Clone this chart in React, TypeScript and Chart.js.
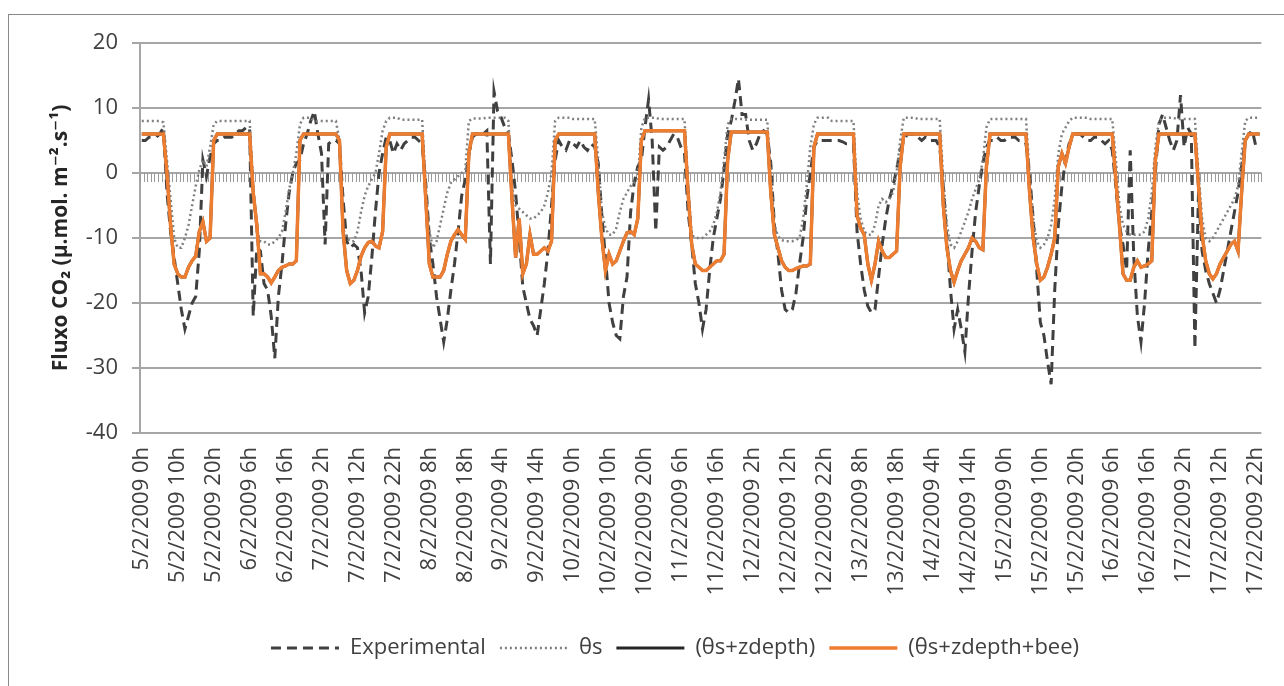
import { useEffect, useRef } from "react";
import { Chart, registerables } from "chart.js";

Chart.register(...registerables);

const days = ["5/2/2009", "6/2/2009", "7/2/2009", "8/2/2009", "9/2/2009", "10/2/2009", "11/2/2009", "12/2/2009", "13/2/2009", "14/2/2009", "15/2/2009", "16/2/2009", "17/2/2009"];
const hours = ["0h", "1h", "2h", "3h", "4h", "5h", "6h", "7h", "8h", "9h", "10h", "11h", "12h", "13h", "14h", "15h", "16h", "17h", "18h", "19h", "20h", "21h", "22h", "23h"];
const categories = days.flatMap((d) => hours.map((h) => d + " " + h));
const labelStep = 10;
const yMin = -40;
const yMax = 20;
const yStep = 10;

const experimental = [
  5, 5, 5.5, 5.5, 5.5, 6, 7, -3, -9, -13, -17, -21, -24, -22, -20, -19, -12, 2, -0.5, 2.5, 4.5, 5, 5, 5.5,
  5.5, 5.5, 6, 6.5, 6.5, 7, 7, -22, -11.5, -12, -17, -18, -22, -28.5, -19, -14, -8, -3, 0, 1.5, 2, 4.5, 6, 8,
  9.5, 6, 3, -11, 4.5, 5, 5, 4.5, -4, -10.5, -11.5, -11, -11.5, -15, -21.5, -19, -13, -6, 0, 3, 5.5, 5, 3, 4.5,
  3.5, 4.5, 5, 5.5, 5.5, 5, 4.5, -1.5, -10, -14, -19, -22.5, -26, -22.5, -18, -14, -9, -3.5, -1, 3, 5.5, 6, 6, 6,
  6.5, -14, 12.5, 9.5, 8.5, 7, 6, 2, -3, -10, -17.5, -20, -22.5, -23.5, -25, -21, -17, -12, -5, 2, 5, 4, 3.5, 5,
  4.5, 4, 5, 4, 3.5, 4.5, 4, 1.5, -6.5, -13, -20, -23, -25, -25.5, -19, -16, -6, -1.5, 1, 2, 7, 11.3, 5, -9,
  4, 3.5, 4, 5, 6, 5.5, 4, 3, -6, -11, -17, -20, -24, -21, -15, -10, -7, -4, 0.5, 6, 8, 11, 14.5, 9,
  9, 5, 3.5, 4.5, 6, 6.5, 6, 1.5, -8, -12.5, -18, -21, -21.5, -21, -18.5, -14, -10, -4, 0, 4, 5, 5, 5, 5,
  5, 5, 5, 4.8, 4.5, 4.5, 4.5, -9, -14, -18, -20.5, -21.5, -21, -16, -11, -7, -4, -2, 0.5, 3.5, 5, 6, 6, 6,
  5.5, 5, 5.5, 5, 5, 5, 4, -2, -10, -18, -24, -21, -24, -27.5, -19, -12, -6, -2, 1.5, 4, 5, 5, 5.5, 5,
  5, 5.5, 5.5, 5.5, 5, 5, 4.5, 0, -7, -15, -23, -25, -29, -32.5, -18, -8, -2, 2, 4.5, 5.5, 6, 6, 5.5, 5,
  5, 5.5, 5.5, 5, 4.5, 5, 3.5, -2, -8, -11, -15, 3.5, -13, -22, -26, -20, -12, -6, 0, 7.5, 9, 7, 5, 3.5,
  5, 12, 4, 7, 6, -27, -3, -12, -15, -17, -18.5, -20, -18, -15, -12, -9, -6, -3, 1, 5, 6, 6.5, 4, 4,
];

const thetaS = [
  8, 8, 8, 8, 8, 8, 7.8, 2, -4, -10, -11.5, -11.5, -10, -8, -5, -2, 0.5, 2, 1, 4, 7.5, 8, 8, 8,
  8, 8, 8, 8, 8, 8, 8, -2, -9, -10.5, -10.5, -11, -11, -10.5, -10, -9, -6, -2.5, 0, 3, 7.5, 8.5, 8.5, 8.5,
  8, 8, 8, 8, 8, 8, 8, 5, -8.5, -10, -10.5, -10.5, -9, -6, -3.5, -2, -1, 0, 3, 6.5, 8, 8.5, 8.5, 8.5,
  8.2, 8.2, 8.2, 8.2, 8.2, 8.2, 8.2, -2, -9, -11.5, -10.5, -8, -5.5, -3, -1.5, -1, -0.5, 0, 0.5, 8, 8.4, 8.4, 8.4, 8.4,
  8.5, 8.5, 8.5, 8.5, 8.5, 8.5, 8, -2, -5, -5.5, -6, -6.5, -7, -7, -6.5, -6, -5, -3, 0, 8, 8.5, 8.5, 8.5, 8.5,
  8.3, 8.3, 8.3, 8.3, 8.3, 8.3, 8.3, 2, -6, -8.5, -9.5, -9.5, -8.5, -6, -4, -3, -2, -1.5, -1, 7, 8.5, 8.5, 8.5, 8.5,
  8.3, 8.3, 8.3, 8.3, 8.3, 8.3, 8.3, 8.3, -2, -9.5, -10, -10, -10, -9.5, -9, -8, -6, -3, 2, 7.5, 8.3, 8.3, 8.3, 8.3,
  8.2, 8.2, 8.2, 8.2, 8.2, 8.2, 8.2, 0, -8, -9.7, -10.3, -10.5, -10.5, -10.5, -10.3, -10, -7, -2, 4, 7.5, 8.5, 8.5, 8.5, 8.5,
  8, 8, 8, 8, 8, 8, 8, -3, -7, -9, -9.5, -9.5, -8, -5, -4, -4.5, -4, -3, 0, 5, 8.5, 8.5, 8.5, 8.5,
  8.3, 8.3, 8.3, 8.3, 8.3, 8.3, 8.3, -1, -8, -11, -11.5, -10.5, -9, -7.5, -6, -4, -2.5, -1, 2, 7, 8.3, 8.3, 8.3, 8.3,
  8.3, 8.3, 8.3, 8.3, 8.3, 8.3, 8.3, 0, -7, -10.5, -11.5, -11, -10, -8, -4, 3, 6, 7, 8, 8.5, 8.5, 8.5, 8.5, 8.5,
  8.3, 8.3, 8.3, 8.3, 8.3, 8.3, 8.3, 2, -5, -8, -9, -9.5, -9.5, -9.5, -9.5, -9, -7, -3, 4, 8, 8.5, 8.5, 8.5, 8.5,
  8.3, 8.3, 8.3, 8.3, 8.3, 8.3, 0, -7, -10, -10.5, -10, -9, -8, -7, -6, -5, -4, -2, 3, 8, 8.5, 8.5, 8.5, 8.5,
];

const thetaZdepth = [
  6, 6, 6, 6, 6, 6, 6, 0, -8, -14, -15.5, -16, -16, -14.5, -13.5, -12.8, -9, -7.5, -10.5, -10, 5, 6, 6, 6,
  6, 6, 6, 6, 6, 6, 6, -3, -8, -15.5, -15.5, -16, -16.9, -16, -15, -14.5, -14.3, -14, -14, -13.5, 5, 6, 6, 6,
  6, 6, 6, 6, 6, 6, 6, 5, -9, -15, -17, -16.5, -15, -12.8, -11.5, -10.7, -10.5, -11.2, -11.5, -9, 4, 6, 6, 6,
  6, 6, 6, 6, 6, 6, 6, -4, -14, -16, -16, -16, -15, -12.5, -10.5, -9.5, -8.7, -9.5, -10.2, 3, 6, 6, 6, 6,
  6, 6, 6, 6, 6, 6, 6, -4, -13, -7, -15.5, -14, -9.5, -12.5, -12.5, -12, -11.5, -12, -10.5, 5, 6, 6, 6, 6,
  6, 6, 6, 6, 6, 6, 6, -3, -10, -15, -12.5, -14, -13.5, -12, -10.5, -9.2, -9, -9.5, -7, 5, 6.5, 6.5, 6.5, 6.5,
  6.5, 6.5, 6.5, 6.5, 6.5, 6.5, 6.5, 6.5, -3, -11, -14, -14.5, -15, -15, -14.5, -14, -13.5, -13.5, -12.5, 2, 6.3, 6.3, 6.3, 6.3,
  6.3, 6.3, 6.3, 6.3, 6.3, 6.3, 6.3, -3, -9.5, -11.5, -13.5, -14.5, -15, -15, -14.7, -14.5, -14.3, -14.3, -14, 4, 6, 6, 6, 6,
  6, 6, 6, 6, 6, 6, 6, -6.5, -8.5, -9.5, -14, -16.5, -14, -10.5, -12, -13, -13, -12.5, -12, 1, 6, 6, 6, 6,
  6, 6, 6, 6, 6, 6, 6, -5, -11.5, -15, -16.8, -15, -13.5, -12.5, -11.5, -10, -10.5, -11.5, -11.8, 1, 6, 6, 6, 6,
  6, 6, 6, 6, 6, 6, 6, -3, -10, -14, -16.5, -16, -14.5, -12.5, -10, 1, 3, 1.5, 4, 6, 6, 6, 6, 6,
  6, 6, 6, 6, 6, 6, 6, -1, -8, -15.5, -16.5, -16.5, -14.5, -13.5, -14.5, -14.3, -14, -13.5, 2, 6, 6, 6, 6, 6,
  6, 6, 6, 6, 6, 6, -2, -9.5, -13.5, -15.5, -16.3, -15.5, -14, -13, -12, -11, -10.5, -12, -3, 5, 6, 6, 6, 6,
];

const thetaZdepthBee = [
  6, 6, 6, 6, 6, 6, 6, 0, -8, -14, -15.5, -16, -16, -14.5, -13.5, -12.8, -9, -7.5, -10.5, -10, 5, 6, 6, 6,
  6, 6, 6, 6, 6, 6, 6, -3, -8, -15.5, -15.5, -16, -16.9, -16, -15, -14.5, -14.3, -14, -14, -13.5, 5, 6, 6, 6,
  6, 6, 6, 6, 6, 6, 6, 5, -9, -15, -17, -16.5, -15, -12.8, -11.5, -10.7, -10.5, -11.2, -11.5, -9, 4, 6, 6, 6,
  6, 6, 6, 6, 6, 6, 6, -4, -14, -16, -16, -16, -15, -12.5, -10.5, -9.5, -8.7, -9.5, -10.2, 3, 6, 6, 6, 6,
  6, 6, 6, 6, 6, 6, 6, -4, -13, -7, -15.5, -14, -9.5, -12.5, -12.5, -12, -11.5, -12, -10.5, 5, 6, 6, 6, 6,
  6, 6, 6, 6, 6, 6, 6, -3, -10, -15, -12.5, -14, -13.5, -12, -10.5, -9.2, -9, -9.5, -7, 5, 6.5, 6.5, 6.5, 6.5,
  6.5, 6.5, 6.5, 6.5, 6.5, 6.5, 6.5, 6.5, -3, -11, -14, -14.5, -15, -15, -14.5, -14, -13.5, -13.5, -12.5, 2, 6.3, 6.3, 6.3, 6.3,
  6.3, 6.3, 6.3, 6.3, 6.3, 6.3, 6.3, -3, -9.5, -11.5, -13.5, -14.5, -15, -15, -14.7, -14.5, -14.3, -14.3, -14, 4, 6, 6, 6, 6,
  6, 6, 6, 6, 6, 6, 6, -6.5, -8.5, -9.5, -14, -16.5, -14, -10.5, -12, -13, -13, -12.5, -12, 1, 6, 6, 6, 6,
  6, 6, 6, 6, 6, 6, 6, -5, -11.5, -15, -16.8, -15, -13.5, -12.5, -11.5, -10, -10.5, -11.5, -11.8, 1, 6, 6, 6, 6,
  6, 6, 6, 6, 6, 6, 6, -3, -10, -14, -16.5, -16, -14.5, -12.5, -10, 1, 3, 1.5, 4, 6, 6, 6, 6, 6,
  6, 6, 6, 6, 6, 6, 6, -1, -8, -15.5, -16.5, -16.5, -14.5, -13.5, -14.5, -14.3, -14, -13.5, 2, 6, 6, 6, 6, 6,
  6, 6, 6, 6, 6, 6, -2, -9.5, -13.5, -15.5, -16.3, -15.5, -14, -13, -12, -11, -10.5, -12, -3, 5, 6, 6, 6, 6,
];

const FONT = "'Open Sans', 'DejaVu Sans', sans-serif";

const zeroTickPlugin = {
  id: "zeroCategoryTicks",
  beforeDatasetsDraw(chart: any) {
    const xs = chart.scales.x;
    const ys = chart.scales.y;
    const ctx = chart.ctx;
    const y0 = Math.round(ys.getPixelForValue(0));
    const half = (xs.getPixelForValue(1) - xs.getPixelForValue(0)) / 2;
    ctx.save();
    ctx.strokeStyle = "#9a9a9a";
    ctx.lineWidth = 1;
    ctx.beginPath();
    for (let i = 0; i <= categories.length; i++) {
      const px = Math.round(xs.getPixelForValue(i) - half) + 0.5;
      ctx.moveTo(px, y0);
      ctx.lineTo(px, y0 + 9);
    }
    ctx.stroke();
    ctx.restore();
  },
};

export default function App() {
  const ref = useRef<HTMLCanvasElement | null>(null);

  useEffect(() => {
    document.body.style.overflow = "hidden";
    if (!ref.current) return;
    const chart = new Chart(ref.current, {
      type: "line",
      data: {
        labels: categories,
        datasets: [
          {
            label: "Experimental",
            data: experimental,
            borderColor: "#404040",
            backgroundColor: "#404040",
            borderWidth: 3,
            borderDash: [10, 6],
            pointRadius: 0,
            tension: 0,
            order: 4,
          },
          {
            label: "θs",
            data: thetaS,
            borderColor: "#7f7f7f",
            backgroundColor: "#7f7f7f",
            borderWidth: 2.5,
            borderDash: [2, 3],
            pointRadius: 0,
            tension: 0,
            order: 3,
          },
          {
            label: "(θs+zdepth)",
            data: thetaZdepth,
            borderColor: "#262626",
            backgroundColor: "#262626",
            borderWidth: 3,
            pointRadius: 0,
            tension: 0,
            order: 2,
          },
          {
            label: "(θs+zdepth+bee)",
            data: thetaZdepthBee,
            borderColor: "#ed7d31",
            backgroundColor: "#ed7d31",
            borderWidth: 3.5,
            pointRadius: 0,
            tension: 0,
            order: 1,
          },
        ],
      },
      options: {
        responsive: false,
        animation: false,
        devicePixelRatio: 1,
        layout: { padding: { left: 46, right: 5, top: 28, bottom: 16 } },
        plugins: {
          tooltip: { enabled: false },
          legend: {
            position: "bottom",
            labels: {
              usePointStyle: true,
              pointStyle: "line",
              pointStyleWidth: 68,
              boxWidth: 68,
              padding: 14,
              color: "#404040",
              font: { family: FONT, size: 22 },
              sort: (a: any, b: any) => a.datasetIndex - b.datasetIndex,
              generateLabels: (c: any) => {
                const base = (Chart.defaults.plugins.legend.labels as any).generateLabels(c);
                return base.map((it: any) => {
                  const ds: any = c.data.datasets[it.datasetIndex];
                  return {
                    ...it,
                    pointStyle: "line",
                    strokeStyle: ds.borderColor,
                    fillStyle: ds.borderColor,
                    lineWidth: ds.borderWidth,
                    lineDash: ds.borderDash || [],
                    lineCap: "butt",
                  };
                });
              },
            },
          },
        },
        scales: {
          x: {
            type: "category",
            offset: true,
            grid: { display: false, drawTicks: false },
            border: { display: false },
            ticks: {
              autoSkip: false,
              minRotation: 90,
              maxRotation: 90,
              padding: 14,
              color: "#404040",
              font: { family: FONT, size: 22 },
              callback: (_v: any, i: number) => (i % labelStep === 0 ? categories[i] : ""),
            },
            afterFit: (s: any) => {
              s.height = 190;
            },
          },
          y: {
            min: yMin,
            max: yMax,
            ticks: {
              stepSize: yStep,
              padding: 14,
              color: "#404040",
              font: { family: FONT, size: 22 },
            },
            grid: { color: "#a6a6a6", lineWidth: 2, drawTicks: true, tickLength: 8 },
            border: { display: true, color: "#a6a6a6", width: 2 },
            title: {
              display: true,
              text: "Fluxo CO₂ (µ.mol. m⁻².s⁻¹)",
              color: "#262626",
              font: { family: FONT, size: 21, weight: "bold" },
              padding: { top: -7, bottom: 0 },
            },
            afterFit: (s: any) => {
              s.width = 85;
            },
          },
        },
      },
      plugins: [zeroTickPlugin],
    });
    return () => chart.destroy();
  }, []);

  return (
    <div
      style={{
        position: "absolute",
        left: 8,
        top: 14,
        width: 1300,
        height: 700,
        border: "1px solid #8a8a8a",
        background: "#ffffff",
        overflow: "hidden",
      }}
    >
      <canvas ref={ref} width={1291} height={670} style={{ display: "block", width: 1291, height: 670 }} />
    </div>
  );
}
